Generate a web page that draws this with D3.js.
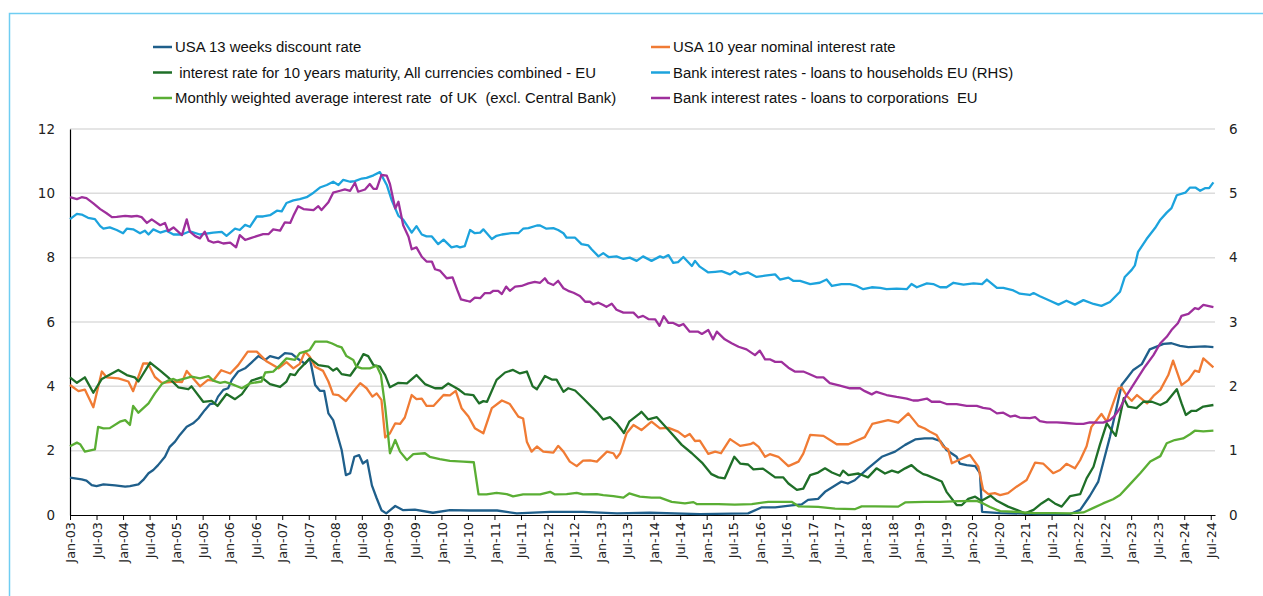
<!DOCTYPE html>
<html>
<head>
<meta charset="utf-8">
<script src="https://cdn.jsdelivr.net/npm/d3@7"></script>
<style>
  html, body { margin: 0; padding: 0; background: #fff; }
  svg { display: block; }
  .tick text { font-family: "DejaVu Sans", Verdana, sans-serif; fill: #222; }
  .legend text { font-family: "Liberation Sans", Arial, sans-serif; font-size: 14.9px; fill: #111; white-space: pre; }
</style>
</head>
<body>
<svg id="chart"></svg>
<script>
// values, [decimal year, rate %]
const usa13w = [[2003.00,1.16],[2003.22,1.11],[2003.31,1.07],[2003.41,0.93],[2003.50,0.90],[2003.63,0.95],[2003.85,0.92],[2004.04,0.88],[2004.13,0.90],[2004.29,0.95],[2004.38,1.09],[2004.48,1.30],[2004.57,1.40],[2004.66,1.55],[2004.79,1.81],[2004.88,2.12],[2004.98,2.28],[2005.07,2.49],[2005.20,2.74],[2005.32,2.85],[2005.42,3.00],[2005.54,3.26],[2005.64,3.45],[2005.73,3.47],[2005.79,3.68],[2005.89,3.89],[2005.98,3.94],[2006.05,4.20],[2006.17,4.46],[2006.30,4.56],[2006.42,4.74],[2006.55,4.94],[2006.68,4.82],[2006.77,4.94],[2006.93,4.87],[2007.05,5.03],[2007.18,5.01],[2007.30,4.85],[2007.43,4.70],[2007.52,4.87],[2007.62,4.04],[2007.71,3.86],[2007.79,3.86],[2007.87,3.16],[2007.96,2.95],[2008.12,2.02],[2008.20,1.24],[2008.28,1.30],[2008.36,1.81],[2008.45,1.86],[2008.52,1.60],[2008.60,1.70],[2008.69,0.92],[2008.78,0.52],[2008.87,0.15],[2008.96,0.05],[2009.13,0.28],[2009.28,0.15],[2009.50,0.17],[2009.84,0.07],[2010.16,0.15],[2010.54,0.14],[2011.05,0.14],[2011.42,0.05],[2012.05,0.10],[2012.67,0.10],[2013.31,0.05],[2013.93,0.07],[2014.87,0.03],[2015.78,0.05],[2016.04,0.24],[2016.29,0.24],[2016.60,0.30],[2016.79,0.33],[2016.91,0.47],[2017.10,0.50],[2017.23,0.72],[2017.54,1.04],[2017.66,0.98],[2017.79,1.08],[2018.04,1.45],[2018.30,1.81],[2018.55,1.97],[2018.74,2.18],[2018.93,2.35],[2019.11,2.38],[2019.26,2.38],[2019.40,2.30],[2019.52,2.02],[2019.71,1.81],[2019.77,1.60],[2019.90,1.55],[2020.06,1.52],[2020.15,1.30],[2020.19,0.10],[2020.53,0.06],[2021.28,0.03],[2021.85,0.03],[2022.04,0.16],[2022.22,0.59],[2022.38,1.04],[2022.47,1.61],[2022.60,2.43],[2022.73,3.37],[2022.82,4.04],[2022.92,4.25],[2023.04,4.51],[2023.20,4.69],[2023.35,5.15],[2023.61,5.32],[2023.76,5.34],[2023.92,5.26],[2024.08,5.22],[2024.39,5.24],[2024.55,5.22]];

const usa10y = [[2003.00,4.04],[2003.16,3.85],[2003.28,3.90],[2003.44,3.35],[2003.60,4.46],[2003.69,4.28],[2003.91,4.25],[2004.10,4.15],[2004.19,3.85],[2004.38,4.71],[2004.47,4.71],[2004.60,4.29],[2004.73,4.11],[2004.98,4.15],[2005.11,4.13],[2005.20,4.48],[2005.45,4.00],[2005.60,4.20],[2005.70,4.18],[2005.85,4.50],[2006.02,4.40],[2006.17,4.66],[2006.35,5.08],[2006.52,5.08],[2006.71,4.77],[2006.93,4.56],[2007.08,4.75],[2007.21,4.56],[2007.33,4.70],[2007.43,5.08],[2007.52,4.92],[2007.62,4.61],[2007.77,4.48],[2007.87,4.15],[2007.96,3.75],[2008.06,3.73],[2008.20,3.54],[2008.37,3.90],[2008.47,4.10],[2008.59,3.94],[2008.70,3.68],[2008.78,3.78],[2008.87,3.58],[2008.94,2.41],[2009.03,2.54],[2009.13,2.85],[2009.22,2.83],[2009.31,3.03],[2009.44,3.73],[2009.53,3.60],[2009.63,3.62],[2009.72,3.39],[2009.85,3.39],[2010.04,3.73],[2010.16,3.72],[2010.27,3.86],[2010.38,3.32],[2010.51,3.06],[2010.63,2.70],[2010.79,2.54],[2010.95,3.32],[2011.14,3.56],[2011.29,3.45],[2011.45,3.06],[2011.54,3.00],[2011.61,2.28],[2011.70,1.97],[2011.80,2.13],[2011.92,1.97],[2012.11,1.94],[2012.20,2.15],[2012.30,1.97],[2012.42,1.66],[2012.55,1.52],[2012.67,1.69],[2012.80,1.70],[2012.93,1.66],[2013.12,1.97],[2013.24,1.92],[2013.30,1.77],[2013.37,1.92],[2013.49,2.54],[2013.62,2.80],[2013.77,2.64],[2013.96,2.90],[2014.12,2.69],[2014.28,2.71],[2014.46,2.59],[2014.59,2.43],[2014.68,2.52],[2014.78,2.30],[2014.87,2.31],[2015.03,1.90],[2015.16,1.97],[2015.27,1.92],[2015.44,2.36],[2015.63,2.15],[2015.82,2.20],[2015.88,2.25],[2015.98,2.12],[2016.10,1.81],[2016.19,1.89],[2016.35,1.81],[2016.54,1.52],[2016.73,1.66],[2016.82,1.91],[2016.95,2.49],[2017.20,2.46],[2017.45,2.20],[2017.67,2.20],[2017.98,2.42],[2018.12,2.83],[2018.42,2.95],[2018.61,2.87],[2018.80,3.16],[2018.99,2.77],[2019.11,2.69],[2019.21,2.59],[2019.33,2.49],[2019.46,2.12],[2019.55,2.04],[2019.62,1.61],[2019.75,1.71],[2019.96,1.87],[2020.12,1.50],[2020.21,0.78],[2020.31,0.65],[2020.43,0.68],[2020.53,0.62],[2020.68,0.68],[2020.84,0.88],[2021.03,1.09],[2021.19,1.63],[2021.34,1.60],[2021.53,1.30],[2021.66,1.40],[2021.78,1.59],[2021.94,1.45],[2022.04,1.71],[2022.16,2.14],[2022.25,2.74],[2022.44,3.14],[2022.54,2.90],[2022.66,3.47],[2022.76,3.94],[2022.82,3.97],[2022.92,3.70],[2023.01,3.55],[2023.11,3.73],[2023.30,3.47],[2023.42,3.70],[2023.55,3.89],[2023.70,4.35],[2023.79,4.80],[2023.95,4.04],[2024.08,4.20],[2024.20,4.49],[2024.28,4.45],[2024.36,4.87],[2024.55,4.59]];

const eu10y = [[2003.00,4.28],[2003.13,4.11],[2003.28,4.28],[2003.44,3.80],[2003.60,4.23],[2003.91,4.51],[2004.07,4.35],[2004.22,4.28],[2004.29,4.15],[2004.51,4.74],[2004.70,4.49],[2004.85,4.28],[2005.04,3.97],[2005.23,3.91],[2005.29,4.00],[2005.51,3.52],[2005.67,3.55],[2005.78,3.39],[2005.95,3.76],[2006.11,3.60],[2006.24,3.76],[2006.42,4.18],[2006.61,4.28],[2006.77,4.07],[2006.96,3.98],[2007.08,4.15],[2007.15,4.38],[2007.24,4.35],[2007.30,4.49],[2007.52,4.87],[2007.68,4.66],[2007.87,4.61],[2007.96,4.49],[2008.03,4.56],[2008.12,4.38],[2008.28,4.33],[2008.40,4.61],[2008.53,5.00],[2008.62,4.94],[2008.72,4.66],[2008.84,4.61],[2008.94,4.35],[2009.03,3.97],[2009.19,4.11],[2009.35,4.09],[2009.53,4.35],[2009.69,4.07],[2009.88,3.94],[2010.01,3.94],[2010.13,4.09],[2010.32,3.91],[2010.44,3.76],[2010.60,3.73],[2010.71,3.47],[2010.79,3.54],[2010.86,3.52],[2011.04,4.20],[2011.20,4.43],[2011.35,4.51],[2011.48,4.40],[2011.61,4.46],[2011.72,4.00],[2011.80,3.91],[2011.95,4.32],[2012.08,4.21],[2012.17,4.21],[2012.30,3.83],[2012.39,3.94],[2012.52,3.87],[2012.67,3.63],[2012.93,3.20],[2013.05,2.97],[2013.18,3.04],[2013.30,2.85],[2013.40,2.64],[2013.44,2.55],[2013.54,2.90],[2013.74,3.16],[2013.77,3.21],[2013.90,2.97],[2014.06,3.04],[2014.28,2.64],[2014.53,2.18],[2014.72,1.92],[2014.91,1.63],[2015.09,1.27],[2015.22,1.17],[2015.34,1.14],[2015.52,1.81],[2015.63,1.60],[2015.78,1.57],[2015.88,1.42],[2016.06,1.44],[2016.29,1.17],[2016.44,1.17],[2016.54,0.98],[2016.70,0.78],[2016.82,0.82],[2016.95,1.24],[2017.10,1.32],[2017.23,1.45],[2017.36,1.32],[2017.51,1.22],[2017.57,1.38],[2017.67,1.24],[2017.86,1.29],[2018.04,1.17],[2018.20,1.45],[2018.36,1.29],[2018.49,1.38],[2018.61,1.32],[2018.74,1.45],[2018.86,1.55],[2018.96,1.40],[2019.08,1.27],[2019.15,1.24],[2019.43,1.04],[2019.52,0.72],[2019.71,0.31],[2019.81,0.31],[2019.93,0.50],[2020.06,0.57],[2020.18,0.44],[2020.35,0.60],[2020.47,0.44],[2020.68,0.26],[2020.84,0.16],[2021.00,0.05],[2021.16,0.16],[2021.31,0.36],[2021.44,0.50],[2021.56,0.36],[2021.69,0.26],[2021.85,0.59],[2022.04,0.65],[2022.16,1.14],[2022.29,1.50],[2022.41,2.18],[2022.54,2.85],[2022.63,2.64],[2022.71,2.46],[2022.79,3.08],[2022.86,3.63],[2022.94,3.37],[2023.10,3.32],[2023.23,3.52],[2023.39,3.52],[2023.55,3.42],[2023.67,3.52],[2023.86,3.91],[2023.95,3.47],[2024.03,3.11],[2024.14,3.24],[2024.23,3.24],[2024.36,3.37],[2024.55,3.42]];

// right hand scale
const households = [[2003.00,4.60],[2003.13,4.68],[2003.22,4.67],[2003.34,4.62],[2003.47,4.60],[2003.57,4.49],[2003.63,4.45],[2003.75,4.47],[2003.88,4.43],[2004.00,4.38],[2004.07,4.45],[2004.19,4.44],[2004.32,4.38],[2004.41,4.42],[2004.48,4.36],[2004.57,4.44],[2004.70,4.39],[2004.82,4.42],[2004.95,4.36],[2005.11,4.36],[2005.26,4.41],[2005.45,4.36],[2005.70,4.39],[2005.86,4.40],[2005.95,4.34],[2006.11,4.45],[2006.20,4.43],[2006.30,4.51],[2006.39,4.48],[2006.52,4.64],[2006.64,4.64],[2006.77,4.66],[2006.90,4.73],[2006.99,4.72],[2007.08,4.85],[2007.21,4.89],[2007.33,4.91],[2007.46,4.94],[2007.59,5.01],[2007.71,5.09],[2007.84,5.13],[2007.96,5.18],[2008.06,5.13],[2008.15,5.21],[2008.28,5.18],[2008.37,5.19],[2008.50,5.23],[2008.59,5.24],[2008.72,5.28],[2008.84,5.33],[2008.97,5.13],[2009.06,4.90],[2009.19,4.65],[2009.28,4.59],[2009.37,4.48],[2009.44,4.39],[2009.53,4.49],[2009.63,4.36],[2009.72,4.33],[2009.82,4.33],[2009.94,4.21],[2010.04,4.28],[2010.19,4.16],[2010.29,4.18],[2010.35,4.16],[2010.44,4.18],[2010.54,4.43],[2010.63,4.38],[2010.73,4.39],[2010.79,4.44],[2010.95,4.29],[2011.04,4.34],[2011.14,4.36],[2011.32,4.38],[2011.45,4.38],[2011.54,4.45],[2011.64,4.46],[2011.80,4.50],[2011.86,4.50],[2011.98,4.45],[2012.11,4.46],[2012.20,4.43],[2012.30,4.38],[2012.36,4.31],[2012.52,4.31],[2012.64,4.21],[2012.77,4.19],[2012.83,4.13],[2012.96,4.02],[2013.05,4.07],[2013.15,4.01],[2013.30,4.02],[2013.43,3.98],[2013.55,4.00],[2013.68,3.95],[2013.80,4.02],[2013.96,3.95],[2014.12,4.02],[2014.18,4.00],[2014.28,4.04],[2014.37,3.92],[2014.46,3.93],[2014.56,4.01],[2014.72,3.87],[2014.78,3.95],[2014.87,3.86],[2015.03,3.77],[2015.16,3.78],[2015.28,3.79],[2015.44,3.74],[2015.53,3.79],[2015.63,3.74],[2015.78,3.77],[2015.94,3.70],[2016.10,3.72],[2016.29,3.74],[2016.38,3.66],[2016.54,3.69],[2016.63,3.64],[2016.76,3.64],[2016.95,3.59],[2017.13,3.61],[2017.26,3.66],[2017.36,3.56],[2017.54,3.59],[2017.70,3.59],[2017.83,3.56],[2017.95,3.51],[2018.11,3.54],[2018.27,3.53],[2018.39,3.51],[2018.58,3.52],[2018.77,3.51],[2018.86,3.59],[2018.96,3.54],[2019.15,3.60],[2019.27,3.59],[2019.40,3.54],[2019.52,3.54],[2019.65,3.61],[2019.84,3.58],[2020.03,3.60],[2020.19,3.59],[2020.28,3.66],[2020.47,3.53],[2020.59,3.53],[2020.78,3.49],[2020.90,3.44],[2021.09,3.42],[2021.16,3.45],[2021.28,3.40],[2021.47,3.33],[2021.63,3.27],[2021.78,3.33],[2021.94,3.27],[2022.10,3.34],[2022.29,3.28],[2022.44,3.25],[2022.60,3.31],[2022.73,3.42],[2022.79,3.47],[2022.88,3.70],[2023.01,3.81],[2023.07,3.88],[2023.13,4.09],[2023.29,4.29],[2023.45,4.46],[2023.55,4.59],[2023.67,4.70],[2023.76,4.77],[2023.86,4.97],[2024.02,5.01],[2024.11,5.09],[2024.21,5.09],[2024.30,5.04],[2024.39,5.08],[2024.47,5.08],[2024.55,5.17]];

const ukRate = [[2003.00,2.14],[2003.13,2.25],[2003.19,2.20],[2003.28,1.97],[2003.47,2.04],[2003.53,2.74],[2003.63,2.69],[2003.75,2.70],[2003.94,2.90],[2004.04,2.95],[2004.13,2.80],[2004.19,3.39],[2004.29,3.18],[2004.48,3.47],[2004.60,3.78],[2004.73,4.07],[2004.85,4.18],[2004.95,4.23],[2005.01,4.18],[2005.14,4.23],[2005.29,4.30],[2005.45,4.25],[2005.61,4.32],[2005.70,4.18],[2005.83,4.11],[2005.92,4.14],[2006.05,4.07],[2006.24,3.94],[2006.39,4.09],[2006.61,4.15],[2006.68,4.43],[2006.83,4.46],[2006.96,4.66],[2007.08,4.87],[2007.24,4.82],[2007.33,5.03],[2007.43,5.08],[2007.52,5.13],[2007.62,5.39],[2007.84,5.39],[2007.93,5.34],[2008.03,5.26],[2008.12,5.21],[2008.21,4.94],[2008.34,4.82],[2008.40,4.61],[2008.50,4.56],[2008.65,4.56],[2008.78,4.64],[2008.86,4.35],[2008.94,3.37],[2009.03,1.92],[2009.13,2.33],[2009.22,1.97],[2009.35,1.71],[2009.47,1.89],[2009.69,1.92],[2009.78,1.81],[2009.97,1.74],[2010.16,1.68],[2010.41,1.66],[2010.61,1.64],[2010.70,0.64],[2010.85,0.64],[2011.04,0.69],[2011.23,0.65],[2011.35,0.58],[2011.54,0.64],[2011.86,0.64],[2012.05,0.72],[2012.14,0.64],[2012.36,0.65],[2012.55,0.69],[2012.67,0.64],[2012.93,0.65],[2013.05,0.62],[2013.24,0.59],[2013.43,0.54],[2013.54,0.67],[2013.74,0.57],[2013.96,0.54],[2014.12,0.54],[2014.34,0.41],[2014.59,0.36],[2014.75,0.40],[2014.81,0.34],[2015.22,0.34],[2015.53,0.32],[2015.85,0.34],[2016.16,0.41],[2016.60,0.41],[2016.73,0.27],[2017.10,0.25],[2017.42,0.20],[2017.79,0.18],[2017.92,0.27],[2018.17,0.27],[2018.61,0.26],[2018.74,0.39],[2019.11,0.41],[2019.40,0.41],[2019.77,0.43],[2020.09,0.44],[2020.21,0.36],[2020.34,0.25],[2020.53,0.12],[2020.90,0.09],[2021.16,0.06],[2021.53,0.06],[2021.85,0.05],[2022.10,0.08],[2022.29,0.22],[2022.47,0.36],[2022.66,0.49],[2022.79,0.62],[2022.98,0.96],[2023.17,1.30],[2023.36,1.66],[2023.55,1.83],[2023.67,2.23],[2023.82,2.33],[2023.98,2.38],[2024.11,2.51],[2024.20,2.62],[2024.36,2.60],[2024.55,2.62]];

const corporations = [[2003.00,9.88],[2003.13,9.82],[2003.22,9.88],[2003.31,9.85],[2003.44,9.69],[2003.57,9.51],[2003.69,9.38],[2003.79,9.26],[2003.88,9.27],[2004.04,9.30],[2004.16,9.28],[2004.26,9.30],[2004.35,9.26],[2004.45,9.08],[2004.54,9.19],[2004.70,9.01],[2004.79,9.08],[2004.85,8.83],[2004.95,8.94],[2005.11,8.70],[2005.20,9.19],[2005.26,8.81],[2005.36,8.67],[2005.45,8.60],[2005.54,8.81],[2005.61,8.53],[2005.70,8.47],[2005.79,8.50],[2005.89,8.44],[2006.02,8.47],[2006.13,8.32],[2006.20,8.70],[2006.30,8.55],[2006.39,8.60],[2006.52,8.67],[2006.64,8.73],[2006.74,8.73],[2006.83,8.88],[2006.96,8.84],[2007.05,9.10],[2007.15,9.08],[2007.21,9.30],[2007.30,9.60],[2007.40,9.51],[2007.59,9.48],[2007.68,9.60],[2007.74,9.48],[2007.87,9.72],[2007.96,10.02],[2008.09,10.08],[2008.18,10.12],[2008.28,10.08],[2008.37,10.33],[2008.43,10.05],[2008.56,10.12],[2008.65,10.29],[2008.72,10.14],[2008.78,10.14],[2008.87,10.57],[2008.97,10.55],[2009.03,10.29],[2009.13,9.53],[2009.19,9.74],[2009.28,9.01],[2009.38,8.65],[2009.44,8.26],[2009.53,8.32],[2009.63,8.03],[2009.72,7.88],[2009.82,7.88],[2009.88,7.64],[2009.97,7.60],[2010.10,7.36],[2010.21,7.39],[2010.30,6.99],[2010.37,6.70],[2010.48,6.66],[2010.54,6.63],[2010.63,6.76],[2010.73,6.74],[2010.82,6.90],[2010.92,6.90],[2010.98,6.97],[2011.07,6.97],[2011.14,6.87],[2011.22,7.10],[2011.29,6.97],[2011.39,7.10],[2011.51,7.12],[2011.64,7.20],[2011.76,7.25],[2011.86,7.22],[2011.95,7.36],[2012.01,7.22],[2012.11,7.15],[2012.20,7.28],[2012.30,7.05],[2012.39,6.97],[2012.49,6.91],[2012.61,6.81],[2012.71,6.63],[2012.80,6.63],[2012.86,6.55],[2012.96,6.60],[2013.05,6.53],[2013.11,6.47],[2013.21,6.57],[2013.30,6.38],[2013.43,6.29],[2013.62,6.29],[2013.71,6.14],[2013.80,6.19],[2013.90,6.09],[2014.03,6.08],[2014.11,5.88],[2014.19,6.18],[2014.28,5.97],[2014.37,5.97],[2014.48,5.88],[2014.56,5.94],[2014.68,5.70],[2014.84,5.70],[2014.91,5.63],[2015.03,5.75],[2015.12,5.46],[2015.19,5.70],[2015.34,5.46],[2015.47,5.34],[2015.60,5.23],[2015.75,5.15],[2015.91,4.97],[2016.00,5.11],[2016.10,4.84],[2016.19,4.84],[2016.29,4.76],[2016.41,4.76],[2016.54,4.58],[2016.66,4.46],[2016.82,4.46],[2016.91,4.40],[2017.07,4.28],[2017.20,4.28],[2017.32,4.10],[2017.51,4.02],[2017.70,3.94],[2017.89,3.94],[2017.98,3.85],[2018.11,3.75],[2018.20,3.83],[2018.39,3.73],[2018.58,3.67],[2018.77,3.62],[2018.89,3.56],[2018.99,3.56],[2019.15,3.62],[2019.24,3.52],[2019.40,3.52],[2019.52,3.45],[2019.71,3.45],[2019.90,3.39],[2020.09,3.39],[2020.21,3.33],[2020.34,3.30],[2020.47,3.16],[2020.59,3.18],[2020.72,3.06],[2020.81,3.09],[2020.90,3.03],[2021.09,3.01],[2021.19,3.04],[2021.28,2.92],[2021.41,2.88],[2021.60,2.88],[2021.78,2.86],[2021.97,2.83],[2022.10,2.83],[2022.22,2.88],[2022.47,2.87],[2022.60,2.95],[2022.69,3.08],[2022.79,3.32],[2022.88,3.63],[2022.98,3.89],[2023.10,4.20],[2023.26,4.61],[2023.42,4.97],[2023.55,5.34],[2023.67,5.54],[2023.76,5.75],[2023.88,5.96],[2023.95,6.19],[2024.08,6.25],[2024.20,6.43],[2024.27,6.40],[2024.36,6.53],[2024.55,6.46]];

const seriesNames = [
  'USA 13 weeks discount rate',
  'USA 10 year nominal interest rate',
  ' interest rate for 10 years maturity, All currencies combined - EU',
  'Bank interest rates - loans to households EU (RHS)',
  'Monthly weighted average interest rate  of UK  (excl. Central Bank)',
  'Bank interest rates - loans to corporations  EU'
];
const seriesColors = ['#1f5f8b', '#f07b34', '#1f6f28', '#1ca3dd', '#5aae34', '#9e2f9c'];
const leftTicks = [0, 2, 4, 6, 8, 10, 12];
const rightTicks = [0, 1, 2, 3, 4, 5, 6];
const xTicks = d3.range(0, 44).map(i => 2003 + i / 2); // Jan-03 ... Jul-24

const series = [
  { name: seriesNames[0], data: usa13w, color: seriesColors[0], rhs: false },
  { name: seriesNames[1], data: usa10y, color: seriesColors[1], rhs: false },
  { name: seriesNames[2], data: eu10y, color: seriesColors[2], rhs: false },
  { name: seriesNames[3], data: households, color: seriesColors[3], rhs: true },
  { name: seriesNames[4], data: ukRate, color: seriesColors[4], rhs: false },
  { name: seriesNames[5], data: corporations, color: seriesColors[5], rhs: false },
];

const width = 1263;
const height = 596;
const margin = { top: 129, left: 70, right: 48, bottom: 81 };

const svg = d3.select('#chart')
  .attr('width', width)
  .attr('height', height);

// outer frame, top and left edges only
svg.append('path')
  .attr('d', `M9.5,${height} V13.5 H${width}`)
  .attr('fill', 'none')
  .attr('stroke', '#6fcdf2')
  .attr('stroke-width', 1.5);

const x = d3.scaleLinear()
  .domain([2003, 2024.58])
  .range([margin.left, width - margin.right]);

const yLeft = d3.scaleLinear()
  .domain([0, 12])
  .range([height - margin.bottom, margin.top]);

const yRight = d3.scaleLinear()
  .domain([0, 6])
  .range([height - margin.bottom, margin.top]);

// gridlines
svg.append('g')
  .selectAll('line')
  .data(leftTicks.filter(d => d > 0))
  .enter().append('line')
    .attr('x1', x(2003))
    .attr('x2', x(2024.58))
    .attr('y1', d => yLeft(d))
    .attr('y2', d => yLeft(d))
    .attr('stroke', '#dcdcdc')
    .attr('stroke-width', 1.5);

const monthLabel = t => (t % 1 === 0 ? 'Jan-' : 'Jul-') + String(Math.floor(t) % 100).padStart(2, '0');

const xAxis = svg.append('g')
  .attr('transform', `translate(0, ${height - margin.bottom})`)
  .call(d3.axisBottom(x).tickValues(xTicks).tickFormat(monthLabel).tickSize(5).tickSizeOuter(0));

xAxis.select('.domain').attr('stroke', '#000').attr('stroke-width', 1.2);
xAxis.selectAll('.tick line').attr('stroke', '#000');
xAxis.selectAll('text')
  .attr('font-size', 12.8)
  .attr('transform', 'rotate(-90)')
  .attr('x', -7)
  .attr('y', 0)
  .attr('dy', '0.36em')
  .attr('text-anchor', 'end');

const leftAxis = svg.append('g')
  .attr('transform', `translate(${margin.left}, 0)`)
  .call(d3.axisLeft(yLeft).tickValues(leftTicks).tickSize(0).tickPadding(15));

leftAxis.select('.domain').attr('stroke', '#000').attr('stroke-width', 1.2);
leftAxis.selectAll('text').attr('font-size', 13.5);

const rightAxis = svg.append('g')
  .attr('transform', `translate(${width - margin.right}, 0)`)
  .call(d3.axisRight(yRight).tickValues(rightTicks).tickFormat(d3.format('d')).tickSize(0).tickPadding(14));

rightAxis.select('.domain').remove();
rightAxis.selectAll('text').attr('font-size', 13.5);

// lines
const line = scale => d3.line()
  .x(d => x(d[0]))
  .y(d => scale(d[1]));

svg.append('g')
  .selectAll('path')
  .data(series)
  .enter().append('path')
    .attr('fill', 'none')
    .attr('stroke', d => d.color)
    .attr('stroke-width', 2.3)
    .attr('stroke-linejoin', 'round')
    .attr('d', d => line(d.rhs ? yRight : yLeft)(d.data));

// legend, two columns
const legend = svg.append('g')
  .attr('class', 'legend')
  .selectAll('g')
  .data(series)
  .enter().append('g')
    .attr('transform', (d, i) => `translate(${i % 2 === 0 ? 153 : 651}, ${47 + Math.floor(i / 2) * 25.5})`);

legend.append('line')
  .attr('x1', 0)
  .attr('x2', 19)
  .attr('stroke', d => d.color)
  .attr('stroke-width', 2.5);

legend.append('text')
  .attr('x', 22)
  .attr('dy', '0.35em')
  .attr('xml:space', 'preserve')
  .text(d => d.name);
</script>
</body>
</html>
